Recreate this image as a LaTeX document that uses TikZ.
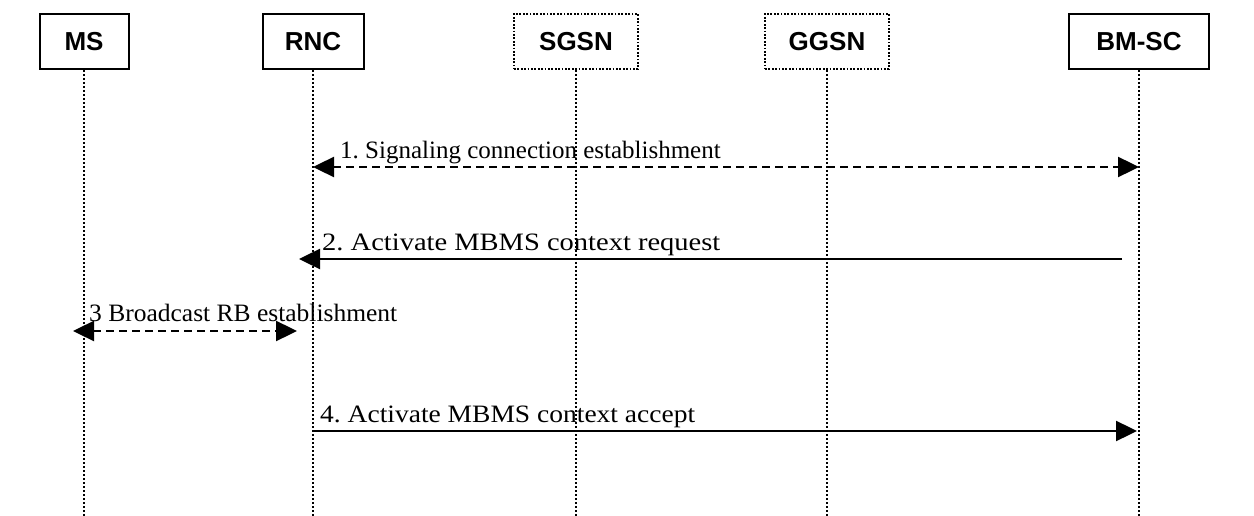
\documentclass[tikz,border=0pt]{standalone}
\usepackage{fontspec}
\setmainfont{Liberation Serif}
\setsansfont{Liberation Sans}
\usetikzlibrary{positioning,arrows.meta,calc}
\frenchspacing

\begin{document}
\begin{tikzpicture}[
  x=1pt, y=-1pt,
  font=\fontsize{25}{28}\selectfont,
  ent/.style={
    rectangle, draw, line width=2pt,
    minimum height=55pt, inner sep=2pt,
    font=\sffamily\bfseries\fontsize{26}{30}\selectfont
  },
  virt/.style={ent, dash pattern=on 1.8pt off 1.6pt},
  life/.style={line width=1.8pt, dash pattern=on 1.8pt off 2.2pt},
  msg/.style={line width=2.4pt, -{Triangle[length=21pt,width=20pt]}},
  bimsg/.style={
    line width=2.4pt, dash pattern=on 8pt off 5pt,
    {Triangle[length=21pt,width=20pt]}-{Triangle[length=21pt,width=20pt]}
  },
  lbl/.style={anchor=base west, inner sep=0pt}
]
\useasboundingbox (0,0) rectangle (1254,516);

% entities
\node[ent, minimum width=89pt] (ms) at (84,41.5) {MS};
\node[ent, minimum width=101pt] (rnc) at (313,41.5) {RNC};
\node[virt, minimum width=124pt] (sgsn) at (576,41.5) {SGSN};
\node[virt, minimum width=124pt] (ggsn) at (827,41.5) {GGSN};
\node[ent, minimum width=140pt] (bmsc) at (1139,41.5) {BM-SC};

% lifelines
\foreach \n in {ms,rnc,sgsn,ggsn,bmsc}{
  \coordinate (\n end) at (\n.south |- 0,516);
  \draw[life] (\n.south) -- (\n end);
}

% message end points
\coordinate (m1a) at (rnc |- 0,167);
\coordinate (m1b) at (bmsc |- 0,167);
\coordinate (m2a) at ([xshift=-17pt]bmsc |- 0,259);
\coordinate (m2b) at ([xshift=-14pt]rnc |- 0,259);
\coordinate (m3a) at ([xshift=-11pt]ms |- 0,331);
\coordinate (m3b) at ([xshift=-16pt]rnc |- 0,331);
\coordinate (m4a) at (rnc |- 0,431);
\coordinate (m4b) at ([xshift=-2pt]bmsc |- 0,431);

% messages
\draw[bimsg] (m1a) -- (m1b);
\node[lbl] (l1) at (340,159) {1. Signaling connection establishment};

\draw[msg] (m2a) -- (m2b);
\node[lbl] (l2) at (322,251) {\scalebox{1.14}[1]{2. Activate MBMS context request}};

\draw[bimsg] (m3a) -- (m3b);
\node[lbl] (l3) at (89,321) {\scalebox{1.02}[1]{3 Broadcast RB establishment}};

\draw[msg] (m4a) -- (m4b);
\node[lbl] (l4) at (320,422) {\scalebox{1.1}[1]{4. Activate MBMS context accept}};

\end{tikzpicture}
\end{document}
